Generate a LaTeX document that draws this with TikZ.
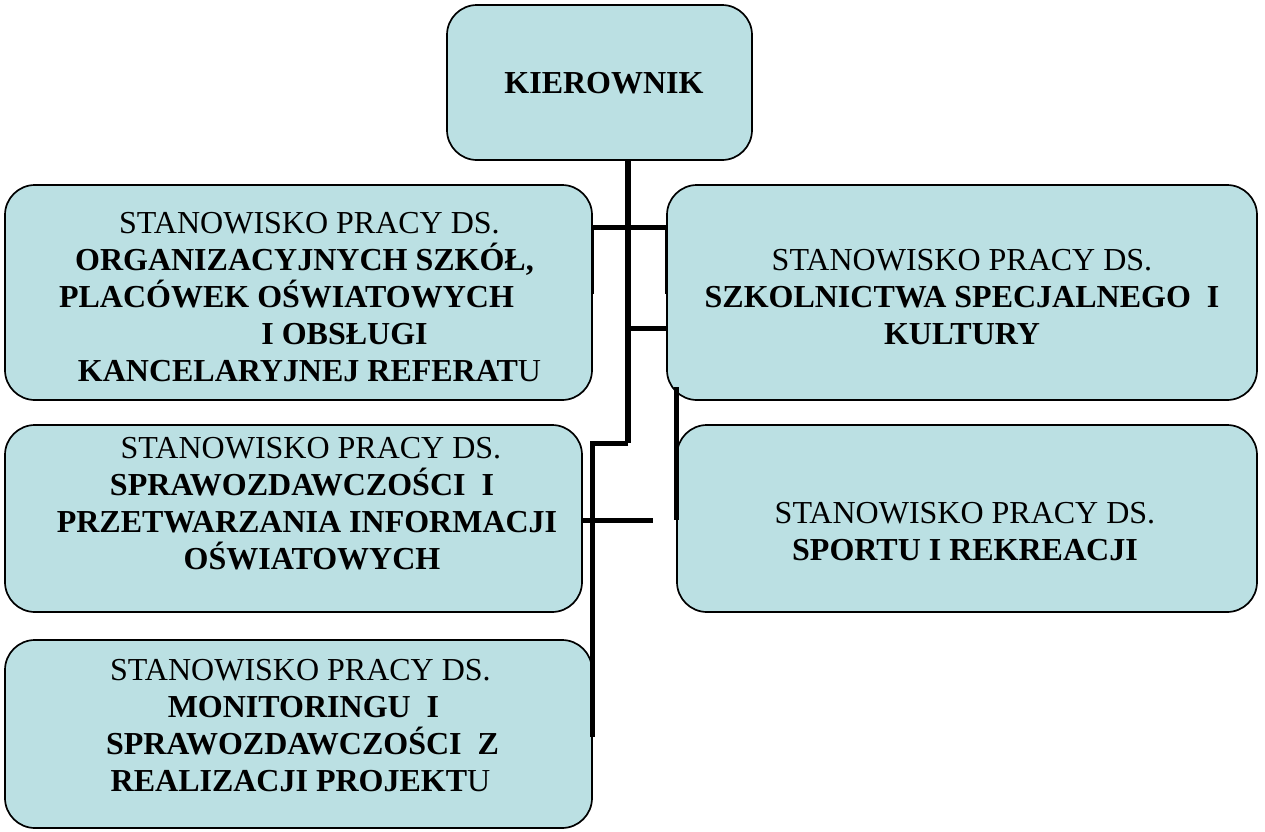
\documentclass[tikz,border=0pt]{standalone}
\usepackage{fontspec}
\setmainfont{Liberation Serif}
\definecolor{boxfill}{RGB}{187,224,227}
\newcommand\sh[2]{\hbox to 0pt{\hss\kern#1pt\relax#2\hss}}
\begin{document}
\begin{tikzpicture}[x=0.5pt,y=-0.5pt,
  box/.style={draw=black, line width=0.85pt, fill=boxfill, rounded corners=15pt, inner sep=0pt, rectangle},
  txt/.style={align=center, font=\fontsize{16}{18.5}\selectfont, inner sep=0pt},
  trunkline/.style={line width=3pt, line join=miter},
  link/.style={line width=2.5pt, line join=miter},
  side link/.style={line width=1.6pt}]
\useasboundingbox (0,0) rectangle (1265,831);

% boxes
\node[box, minimum width=152.5pt, minimum height=77.5pt] (k)  at (599.5,82.5) {};
\node[box, minimum width=293.5pt, minimum height=107.5pt] (l1) at (298.5,292.5) {};
\node[box, minimum width=295pt,   minimum height=107.5pt] (r1) at (962,292.5) {};
\node[box, minimum width=288.5pt, minimum height=93.5pt] (l2) at (293.5,518.5) {};
\node[box, minimum width=290pt,   minimum height=93.5pt] (r2) at (967,518.5) {};
\node[box, minimum width=293.5pt, minimum height=94pt]   (l3) at (298.5,734) {};

% texts
\node[txt] (kt) at (604,83) {\bfseries KIEROWNIK};
\node[txt] (l1t) at (298.5,297.5) {%
  \sh{11}{STANOWISKO PRACY DS.}\\
  \sh{6}{\bfseries ORGANIZACYJNYCH SZKÓŁ,}\\
  \sh{-12}{\bfseries PLACÓWEK OŚWIATOWYCH}\\
  \sh{46}{\bfseries I OBSŁUGI}\\
  \sh{11}{\bfseries KANCELARYJNEJ REFERAT\mdseries U}};
\node[txt] (r1t) at (962,297.5) {%
  STANOWISKO PRACY DS.\\
  \bfseries SZKOLNICTWA SPECJALNEGO\ \ I\\
  \bfseries KULTURY};
\node[txt] (l2t) at (308,504) {%
  \sh{3}{STANOWISKO PRACY DS.}\\
  \sh{-6}{\bfseries SPRAWOZDAWCZOŚCI\ \ I}\\
  \sh{-1}{\bfseries PRZETWARZANIA INFORMACJI}\\
  \sh{4}{\bfseries OŚWIATOWYCH}};
\node[txt] (r2t) at (965,532) {%
  STANOWISKO PRACY DS.\\
  \bfseries SPORTU I REKREACJI};
\node[txt] (l3t) at (300.5,726) {%
  \sh{0}{STANOWISKO PRACY DS.}\\
  \sh{3}{\bfseries MONITORINGU\ \ I}\\
  \sh{2}{\bfseries SPRAWOZDAWCZOŚCI\ \ Z}\\
  \sh{0}{\bfseries REALIZACJI PROJEKT\mdseries U}};

% helper coordinates
\coordinate (tx) at (628,0);
\coordinate (j0) at (628,443);
\coordinate (j1) at (592,443);
\coordinate (j2) at (592,737);
\coordinate (ya) at (0,227);
\coordinate (yb) at (0,294);
\coordinate (yc) at (0,328);
\coordinate (yd) at (0,387);
\coordinate (ye) at (0,520);
\coordinate (e1) at (653,520);

% connectors
\draw[trunkline] (k.south -| tx) -- (j0);
\draw[link] (j0) -- (j1) -- (j2);
\draw[link] (l1.east |- ya) -- (r1.west |- ya);
\draw[side link] (l1.east |- ya) -- (l1.east |- yb);
\draw[side link] (r1.west |- ya) -- (r1.west |- yb);
\draw[link] (tx |- yc) -- (r1.west |- yc);
\draw[link] (l2.east |- ye) -- (e1);
\draw[link] (r2.west |- yd) -- (r2.west |- ye);
\end{tikzpicture}
\end{document}
